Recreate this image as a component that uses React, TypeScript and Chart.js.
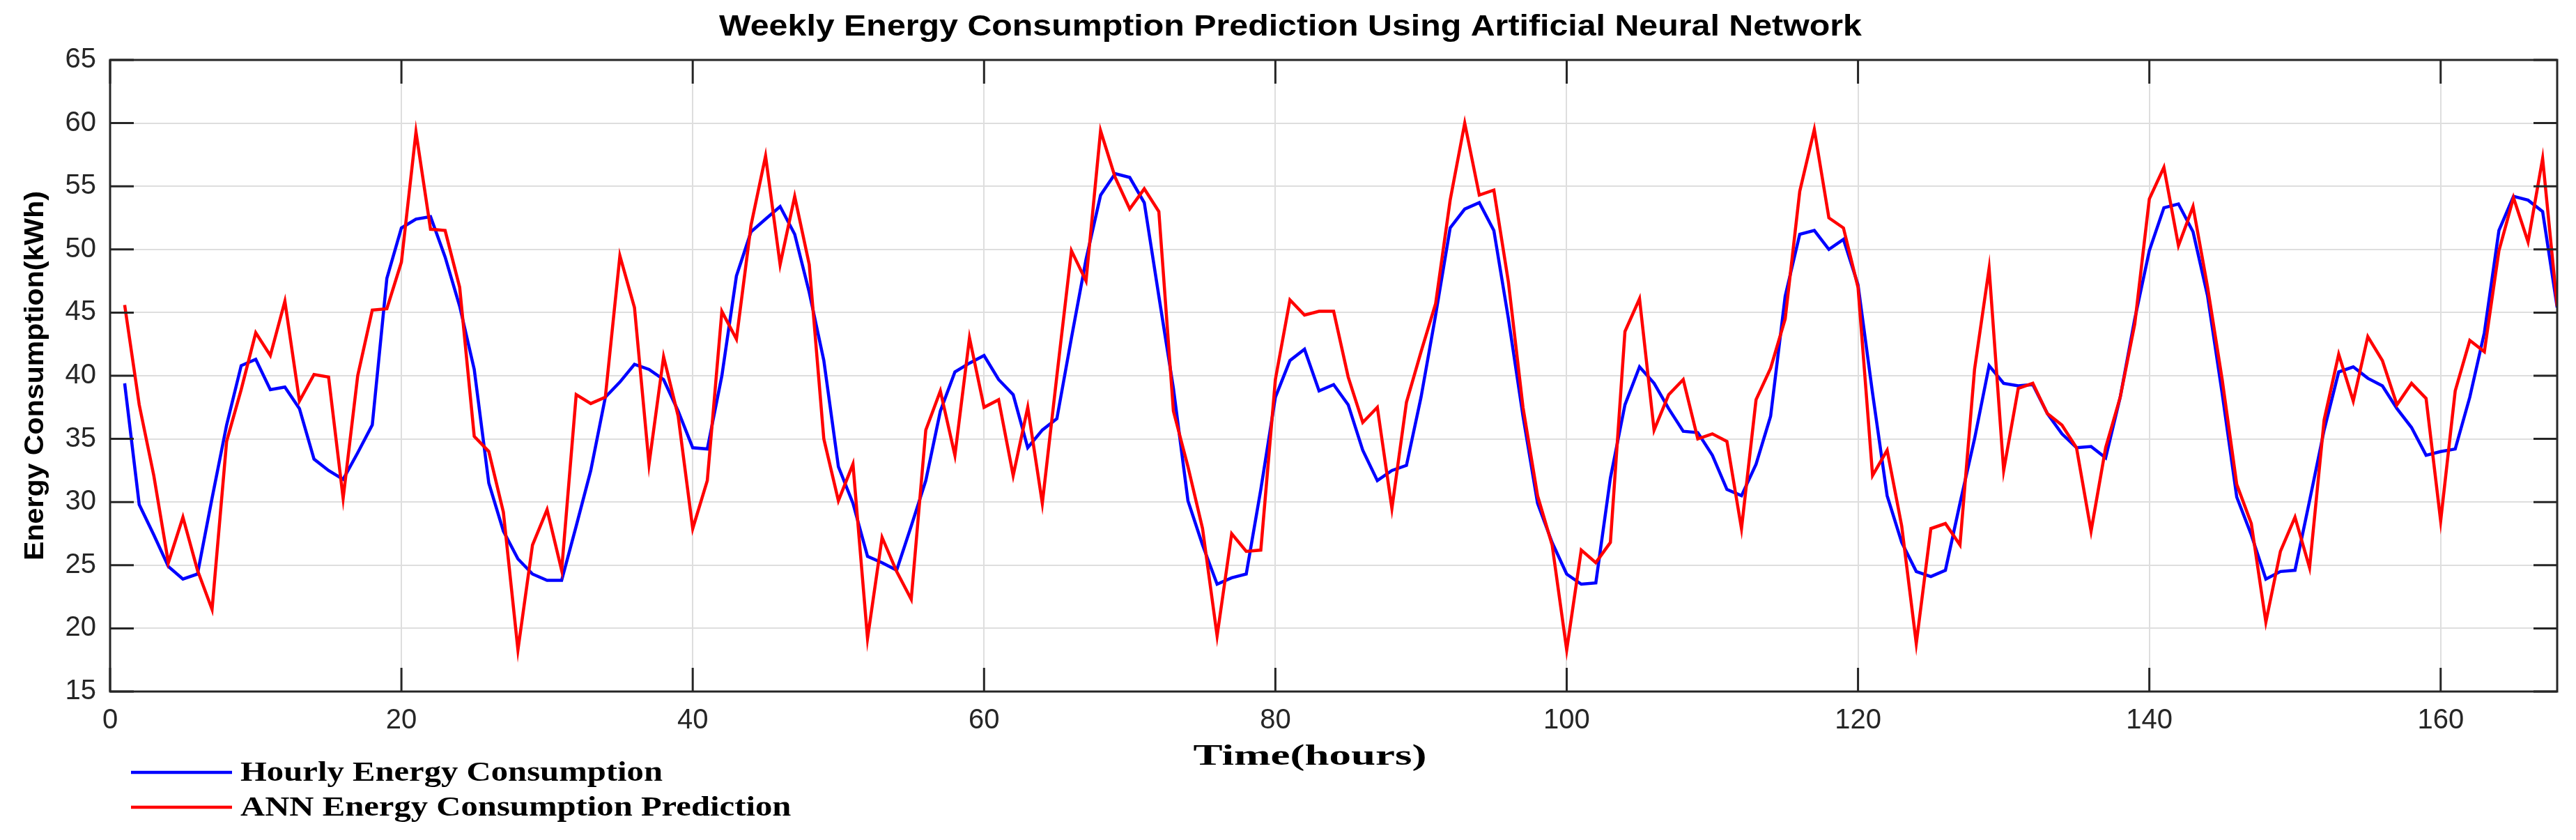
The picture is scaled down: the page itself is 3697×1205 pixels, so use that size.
import React, { useEffect, useRef } from 'react';
import { Chart, registerables } from 'chart.js';

Chart.register(...registerables);

const W = 3697;
const H = 1205;

const TITLE = 'Weekly Energy Consumption Prediction Using Artificial Neural Network';
const X_TITLE = 'Time(hours)';
const Y_TITLE = 'Energy Consumption(kWh)';
const LEGEND_LABELS = ['Hourly Energy Consumption', 'ANN Energy Consumption Prediction'];

const HOURS = Array.from({ length: 168 }, (_, i) => i + 1);

const X_TICKS = [0, 20, 40, 60, 80, 100, 120, 140, 160];
const Y_TICKS = [15, 20, 25, 30, 35, 40, 45, 50, 55, 60, 65];

const ACTUAL = [
  39.4, 29.8, 27.4, 24.9, 23.9, 24.3, 30.3, 36.1, 40.8, 41.3,
  38.9, 39.1, 37.4, 33.4, 32.5, 31.8, 33.9, 36.1, 47.7, 51.7,
  52.4, 52.6, 49.4, 45.5, 40.5, 31.5, 27.7, 25.5, 24.3, 23.8,
  23.8, 28.1, 32.5, 38.3, 39.5, 40.9, 40.5, 39.7, 37.2, 34.3,
  34.2, 40.0, 47.9, 51.4, 52.4, 53.4, 51.2, 46.6, 41.2, 32.8,
  29.9, 25.7, 25.2, 24.6, 28.1, 31.7, 37.2, 40.3, 41.0, 41.6,
  39.7, 38.5, 34.3, 35.7, 36.6, 43.0, 49.2, 54.3, 56.0, 55.7,
  53.7, 46.3, 39.0, 30.1, 26.6, 23.5, 24.0, 24.3, 31.0, 38.3,
  41.2, 42.1, 38.8, 39.3, 37.7, 34.1, 31.7, 32.5, 32.9, 38.3,
  44.8, 51.7, 53.2, 53.7, 51.5, 44.5, 36.8, 29.9, 26.8, 24.3,
  23.5, 23.6, 31.9, 37.7, 40.7, 39.4, 37.4, 35.6, 35.5, 33.7,
  31.0, 30.5, 33.0, 36.8, 46.3, 51.2, 51.5, 50.0, 50.8, 47.2,
  38.6, 30.5, 26.8, 24.5, 24.1, 24.6, 29.9, 35.0, 40.8, 39.4,
  39.2, 39.3, 37.0, 35.4, 34.3, 34.4, 33.5, 38.3, 44.5, 49.9,
  53.3, 53.6, 51.4, 46.3, 38.6, 30.4, 27.4, 23.9, 24.5, 24.6,
  30.1, 35.7, 40.3, 40.7, 39.8, 39.2, 37.4, 35.9, 33.7, 34.0,
  34.2, 38.3, 43.4, 51.5, 54.2, 53.9, 53.0, 45.4,
];

const PREDICTED = [
  45.6, 37.7, 32.1, 25.2, 28.8, 24.6, 21.5, 34.8, 38.9, 43.4,
  41.6, 45.9, 38.0, 40.1, 39.9, 30.3, 40.0, 45.2, 45.3, 49.0,
  59.3, 51.6, 51.5, 47.0, 35.2, 34.0, 29.2, 18.3, 26.6, 29.4,
  24.6, 38.5, 37.8, 38.3, 49.5, 45.4, 33.0, 41.5, 36.8, 27.9,
  31.7, 45.1, 42.9, 51.9, 57.4, 48.8, 54.2, 48.8, 35.0, 30.1,
  33.0, 19.2, 27.2, 24.5, 22.3, 35.7, 38.8, 33.7, 43.0, 37.5,
  38.1, 32.1, 37.5, 29.9, 40.0, 49.9, 47.5, 59.4, 55.7, 53.2,
  54.8, 53.0, 37.2, 32.8, 27.9, 19.4, 27.5, 26.1, 26.2, 39.7,
  46.0, 44.8, 45.1, 45.1, 39.9, 36.3, 37.5, 29.5, 37.9, 41.9,
  45.7, 53.9, 60.0, 54.3, 54.7, 47.4, 37.5, 30.5, 26.6, 18.3,
  26.2, 25.2, 26.8, 43.5, 46.1, 35.7, 38.5, 39.7, 35.0, 35.4,
  34.8, 27.9, 38.1, 40.6, 44.5, 54.6, 59.5, 52.5, 51.7, 47.0,
  32.1, 34.1, 28.1, 18.8, 27.9, 28.3, 26.6, 40.5, 48.5, 32.5,
  39.0, 39.4, 37.0, 36.1, 34.3, 27.7, 34.3, 38.3, 44.1, 54.0,
  56.5, 50.3, 53.4, 47.0, 39.7, 31.4, 28.3, 20.5, 26.1, 28.8,
  24.8, 36.5, 41.7, 38.0, 43.1, 41.2, 37.7, 39.4, 38.2, 28.5,
  38.8, 42.8, 41.9, 49.9, 54.1, 50.6, 57.2, 45.5,
];

const BLUE = '#0000FF';
const RED = '#FF0000';
const AXIS = '#262626';
const GRID = '#dedede';

const PLOT_RIGHT = 3670;
const PLOT_TOP = 86;
const PLOT_BOTTOM = 992;
const Y_AXIS_W = 158;
const TICK_LEN = 34;

function drawFitText(
  ctx: CanvasRenderingContext2D,
  text: string,
  x: number,
  y: number,
  font: string,
  align: CanvasTextAlign,
  targetWidth: number,
  rotate = 0,
) {
  ctx.save();
  ctx.font = font;
  const natural = ctx.measureText(text).width;
  const sx = targetWidth > 0 ? targetWidth / natural : 1;
  ctx.translate(x, y);
  if (rotate) ctx.rotate(rotate);
  ctx.scale(sx, 1);
  ctx.textAlign = align;
  ctx.textBaseline = 'middle';
  ctx.fillStyle = '#000';
  ctx.fillText(text, 0, 0);
  ctx.restore();
}

const decorPlugin = {
  id: 'decor',
  afterDatasetsDraw(chart: any) {
    const { ctx, chartArea: a, scales } = chart;
    const x = scales.x;
    const y = scales.y;
    ctx.save();
    ctx.strokeStyle = AXIS;
    ctx.lineWidth = 3;
    ctx.strokeRect(a.left, a.top, a.right - a.left, a.bottom - a.top);
    ctx.beginPath();
    for (const v of Y_TICKS) {
      const py = y.getPixelForValue(v);
      ctx.moveTo(a.left, py);
      ctx.lineTo(a.left + TICK_LEN, py);
      ctx.moveTo(a.right, py);
      ctx.lineTo(a.right - TICK_LEN, py);
    }
    for (const v of X_TICKS) {
      const px = x.getPixelForValue(v);
      ctx.moveTo(px, a.bottom);
      ctx.lineTo(px, a.bottom - TICK_LEN);
      ctx.moveTo(px, a.top);
      ctx.lineTo(px, a.top + TICK_LEN);
    }
    ctx.stroke();
    ctx.restore();

    // Title
    drawFitText(ctx, TITLE, 1852, 39, 'bold 43px "Liberation Sans"', 'center', 1640);
    // Y axis title
    drawFitText(ctx, Y_TITLE, 52, (a.top + a.bottom) / 2, 'bold 38px "Liberation Sans"', 'center', 530, -Math.PI / 2);
    // X axis title
    drawFitText(ctx, X_TITLE, 1880, 1086, 'bold 42px "Liberation Serif"', 'center', 335);

    // Legend
    const rows = [
      { label: LEGEND_LABELS[0], color: BLUE, y: 1108 },
      { label: LEGEND_LABELS[1], color: RED, y: 1158 },
    ];
    for (const r of rows) {
      ctx.save();
      ctx.strokeStyle = r.color;
      ctx.lineWidth = 4.5;
      ctx.beginPath();
      ctx.moveTo(188, r.y);
      ctx.lineTo(333, r.y);
      ctx.stroke();
      ctx.restore();
    }
    ctx.save();
    ctx.font = 'bold 40px "Liberation Serif"';
    const w0 = ctx.measureText(LEGEND_LABELS[0]).width;
    ctx.restore();
    const legendSx = 606 / w0;
    for (const r of rows) {
      ctx.save();
      ctx.font = 'bold 40px "Liberation Serif"';
      ctx.translate(345, r.y + 2);
      ctx.scale(legendSx, 1);
      ctx.textAlign = 'left';
      ctx.textBaseline = 'middle';
      ctx.fillStyle = '#000';
      ctx.fillText(r.label, 0, 0);
      ctx.restore();
    }
  },
};

export default function App() {
  const ref = useRef<HTMLCanvasElement | null>(null);

  useEffect(() => {
    document.body.style.margin = '0';
    const canvas = ref.current;
    if (!canvas) return;
    const tickFont = { family: '"Liberation Sans", Arial, sans-serif', size: 40 };
    const chart = new Chart(canvas, {
      type: 'line',
      data: {
        datasets: [
          {
            label: LEGEND_LABELS[0],
            data: HOURS.map((h, i) => ({ x: h, y: ACTUAL[i] })),
            borderColor: BLUE,
            backgroundColor: BLUE,
            borderWidth: 4.5,
            pointRadius: 0,
            tension: 0,
            order: 1,
          },
          {
            label: LEGEND_LABELS[1],
            data: HOURS.map((h, i) => ({ x: h, y: PREDICTED[i] })),
            borderColor: RED,
            backgroundColor: RED,
            borderWidth: 4.5,
            pointRadius: 0,
            tension: 0,
            order: 0,
          },
        ],
      },
      options: {
        responsive: false,
        animation: false,
        devicePixelRatio: 1,
        layout: { padding: { left: 0, right: W - PLOT_RIGHT, top: PLOT_TOP, bottom: 0 } },
        plugins: {
          legend: { display: false },
          title: { display: false },
          tooltip: { enabled: false },
        },
        scales: {
          x: {
            type: 'linear',
            min: 0,
            max: 168,
            afterFit: (s: any) => {
              s.height = H - PLOT_BOTTOM;
            },
            afterBuildTicks: (s: any) => {
              s.ticks = X_TICKS.map((v) => ({ value: v }));
            },
            grid: { color: GRID, lineWidth: 2, drawTicks: false },
            border: { display: false },
            ticks: {
              font: tickFont,
              color: AXIS,
              padding: 18,
              maxRotation: 0,
              autoSkip: false,
            },
          },
          y: {
            type: 'linear',
            min: 15,
            max: 65,
            afterFit: (s: any) => {
              s.width = Y_AXIS_W;
            },
            afterBuildTicks: (s: any) => {
              s.ticks = Y_TICKS.map((v) => ({ value: v }));
            },
            grid: { color: GRID, lineWidth: 2, drawTicks: false },
            border: { display: false },
            ticks: {
              font: tickFont,
              color: AXIS,
              padding: 20,
            },
          },
        },
      },
      plugins: [decorPlugin],
    } as any);
    return () => chart.destroy();
  }, []);

  return (
    <div style={{ position: 'fixed', left: 0, top: 0, width: W, height: H, background: '#fff' }}>
      <canvas ref={ref} width={W} height={H} style={{ width: W, height: H, display: 'block' }} />
    </div>
  );
}
